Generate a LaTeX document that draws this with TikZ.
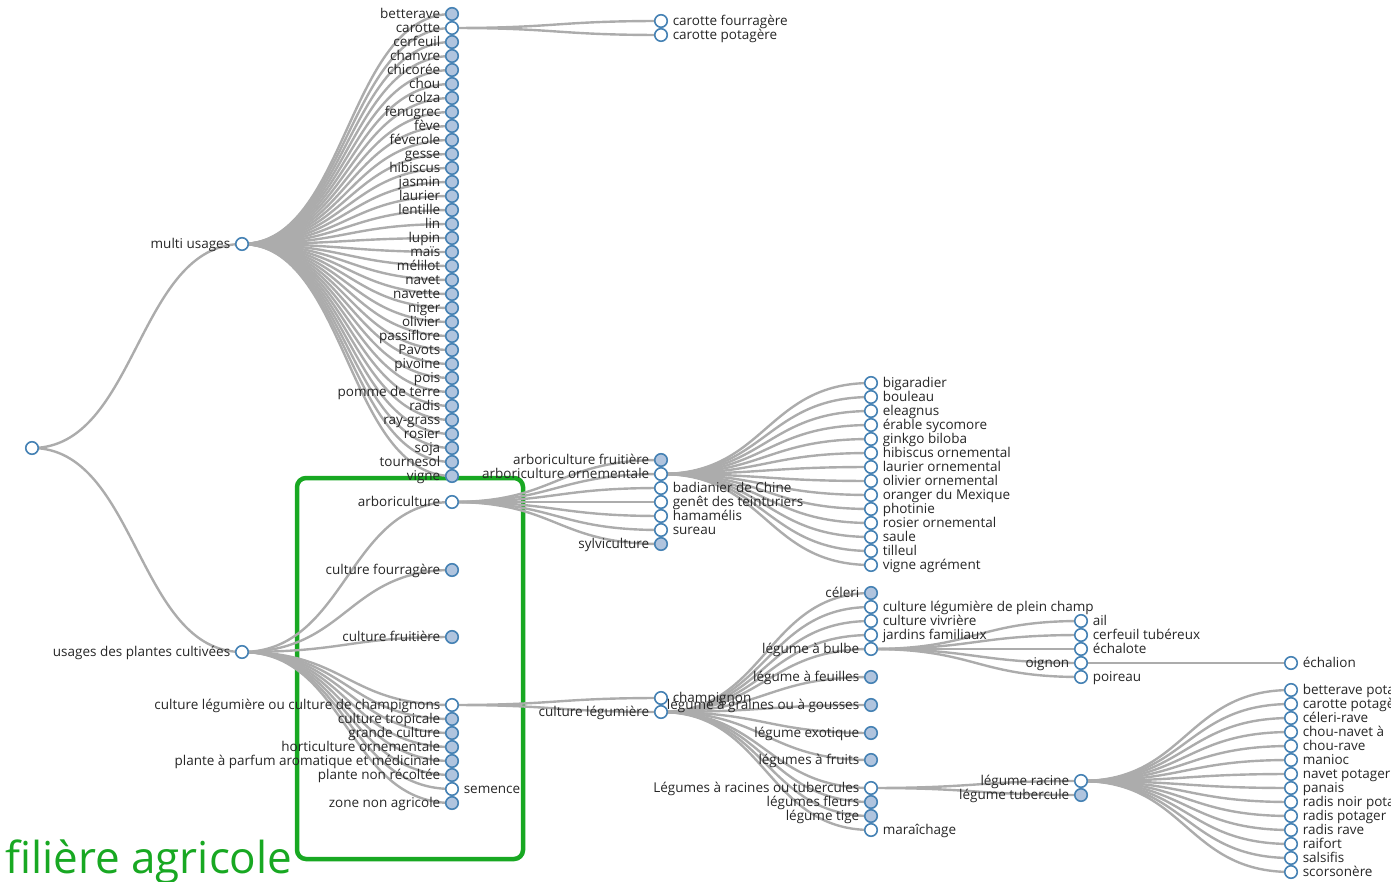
\documentclass[tikz,border=0pt]{standalone}
\usepackage{fontspec}
\setmainfont{Open Sans}
\definecolor{linkgray}{RGB}{172,172,172}
\definecolor{nodeline}{RGB}{70,130,180}
\definecolor{nodefill}{RGB}{176,196,222}
\definecolor{filiere}{RGB}{24,168,34}
\pgfdeclarelayer{liens}
\pgfsetlayers{liens,main}
\begin{document}
\begin{tikzpicture}
        [x=1pt,y=-1pt,
        dot/.style={circle,draw=nodeline,line width=1.6pt,fill=white,minimum size=12.5pt,inner sep=0pt},
        plein/.style={dot,fill=nodefill},
        every label/.style={text=black!85,font=\fontsize{13.5}{13.5}\selectfont,inner sep=0pt,text height=10pt,text depth=0.5pt},
        label distance=4.5pt,
        g/.style={label=left:{#1}},
        d/.style={label=right:{#1}},
        lien/.style={draw=linkgray,line width=2.4pt,to path={.. controls +(105,0) and +(-105,0) .. (\tikztotarget)}}]
    \useasboundingbox (0,0) rectangle (1391,882);
    \clip (0,0) rectangle (1391,882);
    \node[dot] (root) at (32,448) {};
    \node[dot,g=multi usages] (multi) at (242,244) {};
    \node[dot,g=usages des plantes cultivées] (usages) at (242,652) {};
    \foreach \s/\t [count=\i] in {plein/betterave,dot/carotte,plein/cerfeuil,plein/chanvre,plein/chicorée,plein/chou,
            plein/colza,plein/fenugrec,plein/fève,plein/féverole,plein/gesse,plein/hibiscus,plein/jasmin,plein/laurier,
            plein/lentille,plein/lin,plein/lupin,plein/maïs,plein/mélilot,plein/navet,plein/navette,plein/niger,
            plein/olivier,plein/passiflore,plein/Pavots,plein/pivoine,plein/pois,plein/pomme de terre,plein/radis,
            plein/ray-grass,plein/rosier,plein/soja,plein/tournesol,plein/vigne}
        \node[\s,g=\t] (mu\i) at (452,14*\i) {};
    \node[dot,d=carotte fourragère] (ca1) at (661,21) {};
    \node[dot,d=carotte potagère] (ca2) at (661,35) {};
    \node[dot,g=arboriculture] (arbo) at (452,502) {};
    \node[plein,g=culture fourragère] (fourrage) at (452,570) {};
    \node[plein,g=culture fruitière] (fruit) at (452,637) {};
    \node[dot,g=culture légumière ou culture de champignons] (legchamp) at (452,705) {};
    \node[plein,g=culture tropicale] (tropic) at (452,719) {};
    \node[plein,g=grande culture] (grande) at (452,733) {};
    \node[plein,g=horticulture ornementale] (horti) at (452,747) {};
    \node[plein,g=plante à parfum aromatique et médicinale] (parfum) at (452,761) {};
    \node[plein,g=plante non récoltée] (nonrec) at (452,775) {};
    \node[dot,d=semence] (semence) at (452,789) {};
    \node[plein,g=zone non agricole] (zone) at (452,803) {};
    \node[plein,g=arboriculture fruitière] (arbfruit) at (661,460) {};
    \node[dot,g=arboriculture ornementale] (arborn) at (661,474) {};
    \node[dot,d=badianier de Chine] (badianier) at (661,488) {};
    \node[dot,d=genêt des teinturiers] (genet) at (661,502) {};
    \node[dot,d=hamamélis] (hamamelis) at (661,516) {};
    \node[dot,d=sureau] (sureau) at (661,530) {};
    \node[plein,g=sylviculture] (sylvi) at (661,544) {};
    \foreach \t [count=\i from 0] in {bigaradier,bouleau,eleagnus,érable sycomore,ginkgo biloba,hibiscus ornemental,
            laurier ornemental,olivier ornemental,oranger du Mexique,photinie,rosier ornemental,saule,tilleul,vigne agrément}
        \node[dot,d=\t] (orn\i) at (871,383+14*\i) {};
    \node[dot,d=champignon] (champi) at (661,698) {};
    \node[dot,g=culture légumière] (legum) at (661,712) {};
    \node[plein,g=céleri] (celeri) at (871,593) {};
    \node[dot,d=culture légumière de plein champ] (pleinchamp) at (871,607) {};
    \node[dot,d=culture vivrière] (vivriere) at (871,621) {};
    \node[dot,d=jardins familiaux] (jardins) at (871,635) {};
    \node[dot,g=légume à bulbe] (bulbe) at (871,649) {};
    \node[plein,g=légume à feuilles] (feuilles) at (871,677) {};
    \node[plein,g=légume à graines ou à gousses] (graines) at (871,705) {};
    \node[plein,g=légume exotique] (exotique) at (871,733) {};
    \node[plein,g=légumes à fruits] (fruits) at (871,760) {};
    \node[dot,g=Légumes à racines ou tubercules] (racines) at (871,788) {};
    \node[plein,g=légumes fleurs] (fleurs) at (871,802) {};
    \node[plein,g=légume tige] (tige) at (871,816) {};
    \node[dot,d=maraîchage] (maraichage) at (871,830) {};
    \node[dot,d=ail] (ail) at (1081,621) {};
    \node[dot,d=cerfeuil tubéreux] (cerfeuil) at (1081,635) {};
    \node[dot,d=échalote] (echalote) at (1081,649) {};
    \node[dot,g=oignon] (oignon) at (1081,663) {};
    \node[dot,d=poireau] (poireau) at (1081,677) {};
    \node[dot,d=échalion] (echalion) at (1291,663) {};
    \node[dot,g=légume racine] (racine) at (1081,781) {};
    \node[plein,g=légume tubercule] (tubercule) at (1081,795) {};
    \foreach \t [count=\i from 0] in {betterave potagère,carotte potagère,céleri-rave,chou-navet à,chou-rave,manioc,
            navet potager,panais,radis noir potager,radis potager,radis rave,raifort,salsifis,scorsonère}
        \node[dot,d=\t] (rac\i) at (1291,690+14*\i) {};
    \node[text=filiere,font=\fontsize{44}{44}\selectfont,anchor=base west,inner sep=0pt] (titre) at (5,873) {filière agricole};
    \begin{pgfonlayer}{liens}
        \draw[filiere,line width=4.5pt,rounded corners=9pt] (297,478) rectangle (523,859);
        \draw[lien] (root.center) to (multi.center) (root.center) to (usages.center);
        \foreach \i in {1,...,34}
            \draw[lien] (multi.center) to (mu\i.center);
        \draw[lien] (mu2.center) to (ca1.center) (mu2.center) to (ca2.center);
        \foreach \n in {arbo,fourrage,fruit,legchamp,tropic,grande,horti,parfum,nonrec,semence,zone}
            \draw[lien] (usages.center) to (\n.center);
        \foreach \n in {arbfruit,arborn,badianier,genet,hamamelis,sureau,sylvi}
            \draw[lien] (arbo.center) to (\n.center);
        \foreach \i in {0,...,13}
            \draw[lien] (arborn.center) to (orn\i.center);
        \draw[lien] (legchamp.center) to (champi.center) (legchamp.center) to (legum.center);
        \foreach \n in {celeri,pleinchamp,vivriere,jardins,bulbe,feuilles,graines,exotique,fruits,racines,fleurs,tige,maraichage}
            \draw[lien] (legum.center) to (\n.center);
        \foreach \n in {ail,cerfeuil,echalote,oignon,poireau}
            \draw[lien] (bulbe.center) to (\n.center);
        \draw[lien] (oignon.center) to (echalion.center);
        \draw[lien] (racines.center) to (racine.center) (racines.center) to (tubercule.center);
        \foreach \i in {0,...,13}
            \draw[lien] (racine.center) to (rac\i.center);
    \end{pgfonlayer}
\end{tikzpicture}
\end{document}
